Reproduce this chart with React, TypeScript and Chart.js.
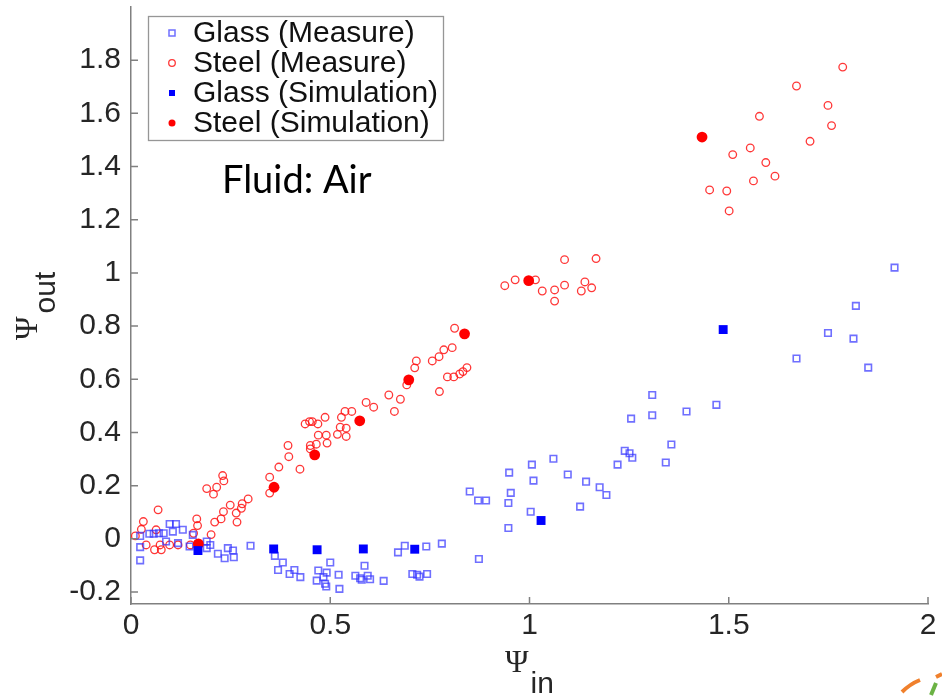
import React, { useEffect, useRef } from 'react';
import { Chart, registerables } from 'chart.js';

Chart.register(...registerables);

// ---- Data ----
const glassMeasure: [number, number][] = [
  [0.023, -0.031], [0.023, -0.081], [0.023, 0.011], [0.046, 0.019], [0.057, 0.019], [0.070, 0.021],
  [0.082, 0.021], [0.097, 0.056], [0.113, 0.056], [0.105, 0.027], [0.130, 0.034], [0.088, -0.010],
  [0.118, -0.016], [0.147, -0.029], [0.155, 0.015], [0.190, -0.010], [0.190, -0.035], [0.199, -0.023],
  [0.218, -0.056], [0.235, -0.073], [0.243, -0.035], [0.256, -0.044], [0.258, -0.069], [0.300, -0.026],
  [0.361, -0.064], [0.381, -0.089], [0.369, -0.117], [0.398, -0.132], [0.410, -0.117], [0.425, -0.144],
  [0.500, -0.089], [0.470, -0.119], [0.491, -0.127], [0.483, -0.144], [0.466, -0.157], [0.487, -0.169],
  [0.490, -0.179], [0.521, -0.135], [0.523, -0.188],
  [0.586, -0.101], [0.563, -0.139], [0.575, -0.148], [0.579, -0.154], [0.594, -0.139], [0.600, -0.152],
  [0.634, -0.158],
  [0.670, -0.051], [0.687, -0.026], [0.741, -0.029], [0.780, -0.018], [0.706, -0.132], [0.718, -0.135],
  [0.724, -0.142], [0.743, -0.132],
  [0.850, 0.178], [0.871, 0.144], [0.891, 0.144], [0.873, -0.076], [0.949, 0.249], [0.953, 0.173],
  [0.947, 0.135], [0.947, 0.041], [1.006, 0.279], [1.010, 0.219], [1.003, 0.102], [1.060, 0.301],
  [1.096, 0.242], [1.142, 0.215], [1.127, 0.121], [1.176, 0.194], [1.193, 0.165], [1.221, 0.279],
  [1.239, 0.331], [1.251, 0.322], [1.258, 0.305], [1.342, 0.287], [1.356, 0.355], [1.308, 0.541],
  [1.308, 0.465], [1.255, 0.452], [1.394, 0.479], [1.469, 0.504],
  [1.670, 0.678], [1.749, 0.774], [1.813, 0.753], [1.819, 0.876], [1.850, 0.644], [1.916, 1.020],
];

const steelMeasure: [number, number][] = [
  [0.011, 0.011], [0.026, 0.036], [0.031, 0.065], [0.063, 0.034], [0.068, 0.109], [0.038, -0.023],
  [0.059, -0.041], [0.076, -0.041], [0.073, -0.023], [0.097, -0.023], [0.118, -0.023], [0.149, -0.023],
  [0.157, 0.021], [0.165, 0.075], [0.167, 0.050], [0.201, 0.016], [0.210, 0.063], [0.226, 0.075],
  [0.232, 0.102], [0.266, 0.063], [0.264, 0.097], [0.249, 0.127], [0.277, 0.115], [0.279, 0.132],
  [0.294, 0.150], [0.207, 0.168], [0.190, 0.189], [0.215, 0.194], [0.230, 0.238], [0.233, 0.218],
  [0.348, 0.172], [0.348, 0.232], [0.371, 0.270], [0.396, 0.309], [0.394, 0.351], [0.424, 0.262],
  [0.450, 0.338], [0.450, 0.351], [0.465, 0.356], [0.492, 0.360], [0.470, 0.390], [0.490, 0.390],
  [0.437, 0.432], [0.448, 0.441], [0.455, 0.441], [0.469, 0.432], [0.487, 0.457], [0.518, 0.393],
  [0.525, 0.420], [0.540, 0.416], [0.540, 0.385], [0.528, 0.457], [0.537, 0.479], [0.554, 0.479],
  [0.590, 0.513], [0.609, 0.495], [0.647, 0.541], [0.676, 0.525], [0.661, 0.479],
  [0.692, 0.579], [0.712, 0.643], [0.716, 0.669], [0.756, 0.669], [0.773, 0.685], [0.785, 0.711],
  [0.806, 0.719], [0.812, 0.792], [0.774, 0.554], [0.794, 0.609], [0.810, 0.609], [0.825, 0.620],
  [0.833, 0.629], [0.843, 0.644],
  [0.938, 0.952], [0.964, 0.974], [1.015, 0.974], [1.032, 0.932], [1.063, 0.936], [1.063, 0.894],
  [1.088, 0.954], [1.088, 1.050], [1.139, 0.966], [1.130, 0.932], [1.156, 0.944], [1.167, 1.054],
  [1.452, 1.312], [1.495, 1.308], [1.501, 1.233], [1.510, 1.445], [1.554, 1.470], [1.562, 1.346],
  [1.577, 1.589], [1.593, 1.415], [1.616, 1.364], [1.670, 1.703], [1.704, 1.495], [1.749, 1.630],
  [1.758, 1.554], [1.786, 1.774],
];

const glassSimulation: [number, number][] = [
  [0.168, -0.044], [0.358, -0.038], [0.467, -0.041], [0.583, -0.038], [0.712, -0.039],
  [1.029, 0.069], [1.486, 0.787],
];

const steelSimulation: [number, number][] = [
  [0.169, -0.019], [0.359, 0.194], [0.461, 0.316], [0.574, 0.444], [0.697, 0.598],
  [0.837, 0.771], [0.998, 0.971], [1.433, 1.511],
];

const xTicks = [0, 0.5, 1, 1.5, 2];
const yTicks = [-0.2, 0, 0.2, 0.4, 0.6, 0.8, 1, 1.2, 1.4, 1.6, 1.8];
const legendLabels = ['Glass (Measure)', 'Steel (Measure)', 'Glass (Simulation)', 'Steel (Simulation)'];
const annotationText = 'Fluid: Air';
const axisSymbol = 'Ψ';
const xSub = 'in';
const ySub = 'out';

// ---- Styles ----
const AXIS_COLOR = 'rgb(128,128,128)';
const TEXT_COLOR = '#262626';
const SANS = '"Liberation Sans", Arial, Helvetica, sans-serif';
const SERIF = '"Liberation Serif", "Times New Roman", serif';
const BLUE_OPEN = 'rgba(50,50,255,0.7)';
const RED_OPEN = 'rgba(255,20,20,0.85)';

const toPts = (arr: [number, number][]) => arr.map(([x, y]) => ({ x, y }));
const fmt = (v: number) => String(Math.round(v * 10) / 10);

export default function App() {
  const ref = useRef<HTMLCanvasElement>(null);

  useEffect(() => {
    const canvas = ref.current;
    if (!canvas) return;

    const decor = {
      id: 'decor',
      afterDraw(chart: any) {
        const ctx: CanvasRenderingContext2D = chart.ctx;
        const xs = chart.scales.x;
        const ys = chart.scales.y;
        const area = chart.chartArea;
        ctx.save();

        // inward tick marks
        ctx.strokeStyle = AXIS_COLOR;
        ctx.lineWidth = 1.5;
        ctx.beginPath();
        xTicks.forEach((v) => {
          const p = xs.getPixelForValue(v);
          ctx.moveTo(p, area.bottom);
          ctx.lineTo(p, area.bottom - 7);
        });
        yTicks.forEach((v) => {
          const p = ys.getPixelForValue(v);
          ctx.moveTo(area.left, p);
          ctx.lineTo(area.left + 7, p);
        });
        ctx.stroke();

        // x title: Ψ_in
        ctx.fillStyle = TEXT_COLOR;
        ctx.textAlign = 'left';
        ctx.textBaseline = 'alphabetic';
        ctx.font = `32px ${SERIF}`;
        ctx.fillText(axisSymbol, 505, 672);
        const wx = ctx.measureText(axisSymbol).width;
        ctx.font = `30px ${SANS}`;
        ctx.fillText(xSub, 505 + wx + 2, 693);

        // y title: Ψ_out (rotated)
        ctx.save();
        ctx.translate(37, 340);
        ctx.rotate(-Math.PI / 2);
        ctx.font = `32px ${SERIF}`;
        ctx.fillText(axisSymbol, 0, 0);
        const wy = ctx.measureText(axisSymbol).width;
        ctx.font = `30px ${SANS}`;
        ctx.fillText(ySub, wy + 3, 18);
        ctx.restore();

        // annotation
        ctx.fillStyle = '#000';
        ctx.font = `38px Lato, "Open Sans", sans-serif`;
        ctx.fillText(annotationText, 222, 193);

        // legend box
        ctx.fillStyle = '#fff';
        ctx.fillRect(148, 16, 295, 125);
        ctx.strokeStyle = 'rgb(150,150,150)';
        ctx.lineWidth = 1.3;
        ctx.strokeRect(148.5, 16.5, 295, 124);
        const rows = [33, 63, 93, 123];
        const mx = 172;
        // markers
        ctx.lineWidth = 1.5;
        ctx.strokeStyle = BLUE_OPEN;
        ctx.strokeRect(mx - 3, rows[0] - 3, 6, 6);
        ctx.strokeStyle = RED_OPEN;
        ctx.lineWidth = 1.3;
        ctx.beginPath();
        ctx.arc(mx, rows[1], 3.3, 0, Math.PI * 2);
        ctx.stroke();
        ctx.fillStyle = '#0000ff';
        ctx.fillRect(mx - 3, rows[2] - 3, 6, 6);
        ctx.fillStyle = '#ff0000';
        ctx.beginPath();
        ctx.arc(mx, rows[3], 3.5, 0, Math.PI * 2);
        ctx.fill();
        // legend text
        ctx.fillStyle = '#111';
        ctx.font = `30px ${SANS}`;
        ctx.textBaseline = 'middle';
        legendLabels.forEach((t, i) => ctx.fillText(t, 193, rows[i] + 1));

        // partial logo in the bottom-right corner
        ctx.lineWidth = 4;
        ctx.lineCap = 'butt';
        ctx.strokeStyle = '#f0802c';
        ctx.beginPath();
        ctx.moveTo(902, 692);
        ctx.quadraticCurveTo(910, 684, 920, 680);
        ctx.moveTo(936, 677);
        ctx.lineTo(942, 674);
        ctx.stroke();
        ctx.strokeStyle = '#6bb244';
        ctx.beginPath();
        ctx.moveTo(931, 695);
        ctx.lineTo(936, 683);
        ctx.stroke();

        ctx.restore();
      },
    };

    const chart = new Chart(canvas, {
      type: 'scatter',
      data: {
        datasets: [
          {
            label: legendLabels[0],
            data: toPts(glassMeasure),
            pointStyle: 'rect',
            pointRadius: 4.6,
            borderColor: BLUE_OPEN,
            backgroundColor: 'rgba(0,0,0,0)',
            borderWidth: 1.6,
            order: 2,
          },
          {
            label: legendLabels[1],
            data: toPts(steelMeasure),
            pointStyle: 'circle',
            pointRadius: 3.8,
            borderColor: RED_OPEN,
            backgroundColor: 'rgba(0,0,0,0)',
            borderWidth: 1.3,
            order: 2,
          },
          {
            label: legendLabels[2],
            data: toPts(glassSimulation),
            pointStyle: 'rect',
            pointRadius: 6.3,
            borderColor: '#0000ff',
            backgroundColor: '#0000ff',
            borderWidth: 0,
            order: 1,
          },
          {
            label: legendLabels[3],
            data: toPts(steelSimulation),
            pointStyle: 'circle',
            pointRadius: 5.4,
            borderColor: '#ff0000',
            backgroundColor: '#ff0000',
            borderWidth: 0,
            order: 1,
          },
        ] as any,
      },
      options: {
        animation: false,
        responsive: false,
        devicePixelRatio: 1,
        layout: { padding: { left: 0, right: 14, top: 7, bottom: 0 } },
        plugins: {
          legend: { display: false },
          tooltip: { enabled: false },
          title: { display: false },
        },
        scales: {
          x: {
            type: 'linear',
            position: 'bottom',
            min: 0,
            max: 2,
            grid: { display: false, drawTicks: false },
            border: { display: true, color: AXIS_COLOR, width: 1.5 },
            ticks: {
              font: { family: SANS, size: 30 },
              color: TEXT_COLOR,
              padding: 4,
              autoSkip: false,
              maxRotation: 0,
              callback: (v: any) => fmt(Number(v)),
            },
            afterBuildTicks: (s: any) => {
              s.ticks = xTicks.map((v) => ({ value: v }));
            },
            afterFit: (s: any) => {
              s.height = 93;
              s.paddingLeft = 0;
              s.paddingRight = 0;
            },
          },
          y: {
            type: 'linear',
            position: 'left',
            min: -0.245,
            max: 2.0,
            grid: { display: false, drawTicks: false },
            border: { display: true, color: AXIS_COLOR, width: 1.5 },
            ticks: {
              font: { family: SANS, size: 30 },
              color: TEXT_COLOR,
              padding: 10,
              autoSkip: false,
              callback: (v: any) => fmt(Number(v)),
            },
            afterBuildTicks: (s: any) => {
              s.ticks = yTicks.map((v) => ({ value: v }));
            },
            afterFit: (s: any) => {
              s.width = 131;
              s.paddingTop = 0;
              s.paddingBottom = 0;
            },
          },
        },
      } as any,
      plugins: [decor],
    });

    return () => chart.destroy();
  }, []);

  return (
    <div style={{ position: 'absolute', left: 0, top: 0, width: 942, height: 697, background: '#fff' }}>
      <canvas ref={ref} width={942} height={697} style={{ display: 'block' }} />
    </div>
  );
}
